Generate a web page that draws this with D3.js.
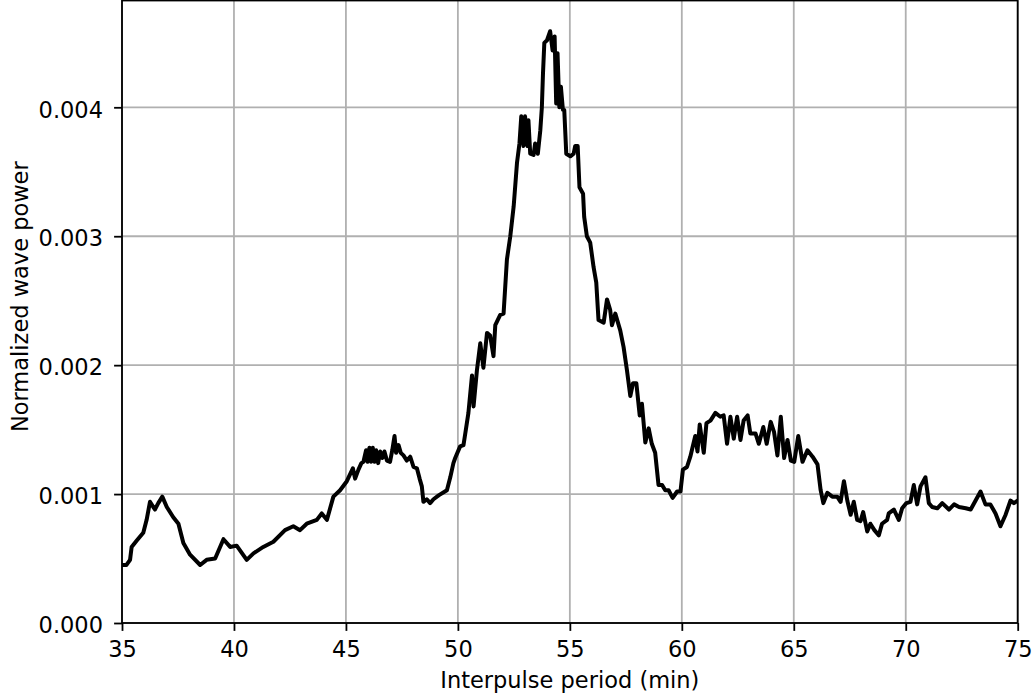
<!DOCTYPE html>
<html>
<head>
<meta charset="utf-8">
<script src="https://cdn.jsdelivr.net/npm/d3@7"></script>
<style>
  html, body { margin: 0; padding: 0; background: #fff; }
  svg { display: block; }
  text { font-family: "DejaVu Sans", sans-serif; fill: #000; }
</style>
</head>
<body>
<svg id="chart" width="1035" height="697"></svg>
<script>
// Interpulse period (min)
const periods = [
  35.00,35.20,35.36,35.43,35.66,35.95,36.10,36.25,36.47,36.62,
  36.80,37.00,37.29,37.52,37.74,38.04,38.49,38.78,39.16,39.53,
  39.83,40.12,40.57,40.87,41.31,41.76,42.28,42.65,42.95,43.25,
  43.70,43.92,44.15,44.44,44.74,45.04,45.31,45.41,45.56,45.69,
  45.78,45.90,45.96,46.05,46.12,46.20,46.27,46.35,46.44,46.53,
  46.63,46.72,46.83,46.97,47.07,47.17,47.24,47.35,47.45,47.57,
  47.72,47.87,48.02,48.17,48.29,48.39,48.46,48.61,48.76,48.91,
  49.14,49.51,49.66,49.80,49.88,50.10,50.25,50.33,50.47,50.63,
  50.70,50.85,51.00,51.14,51.30,51.44,51.59,51.67,51.89,52.04,
  52.19,52.34,52.49,52.64,52.75,52.83,52.93,53.00,53.11,53.15,
  53.23,53.38,53.45,53.57,53.68,53.75,53.80,53.86,53.98,54.12,
  54.23,54.32,54.39,54.45,54.53,54.60,54.69,54.75,54.84,55.02,
  55.17,55.24,55.35,55.43,55.59,55.64,55.76,55.91,56.06,56.18,
  56.28,56.51,56.66,56.80,56.88,57.03,57.25,57.40,57.55,57.70,
  57.82,57.97,58.12,58.22,58.37,58.52,58.66,58.81,58.96,59.12,
  59.26,59.41,59.59,59.79,59.94,60.05,60.23,60.38,60.60,60.70,
  60.80,60.98,61.10,61.28,61.50,61.72,61.87,62.02,62.17,62.32,
  62.47,62.62,62.76,62.94,63.06,63.29,63.44,63.64,63.79,63.97,
  64.12,64.27,64.42,64.57,64.72,64.87,65.02,65.20,65.39,65.61,
  65.84,66.06,66.20,66.32,66.50,66.72,66.94,67.09,67.24,67.39,
  67.54,67.68,67.83,67.98,68.10,68.28,68.42,68.60,68.80,68.94,
  69.17,69.24,69.47,69.69,69.84,70.03,70.21,70.36,70.51,70.66,
  70.88,71.03,71.18,71.41,71.63,71.93,72.16,72.38,72.68,72.90,
  73.12,73.34,73.56,73.78,74.01,74.23,74.46,74.68,74.83,75.00
];
// Normalized wave power (in units of 0.001)
const powerMilli = [
  0.45,0.45,0.49,0.59,0.64,0.70,0.80,0.94,0.88,0.93,
  0.98,0.90,0.82,0.77,0.62,0.53,0.45,0.49,0.50,0.65,
  0.59,0.60,0.49,0.54,0.59,0.63,0.72,0.75,0.72,0.77,
  0.80,0.85,0.80,0.98,1.03,1.10,1.20,1.12,1.19,1.24,
  1.25,1.34,1.25,1.36,1.25,1.36,1.25,1.34,1.24,1.33,
  1.28,1.33,1.26,1.25,1.34,1.45,1.32,1.38,1.32,1.30,
  1.26,1.29,1.21,1.20,1.12,1.06,0.94,0.96,0.93,0.96,
  0.99,1.03,1.13,1.24,1.28,1.37,1.38,1.47,1.63,1.92,
  1.68,1.96,2.17,1.98,2.25,2.23,2.07,2.31,2.39,2.40,
  2.82,3.00,3.23,3.57,3.72,3.93,3.70,3.93,3.70,3.90,
  3.64,3.63,3.72,3.64,3.82,4.00,4.26,4.50,4.52,4.59,
  4.44,4.55,4.03,4.42,4.00,4.16,3.98,3.98,3.64,3.62,
  3.64,3.70,3.70,3.38,3.33,3.15,3.00,2.95,2.76,2.64,
  2.35,2.33,2.51,2.43,2.31,2.40,2.27,2.14,1.96,1.76,
  1.86,1.86,1.61,1.70,1.40,1.51,1.39,1.32,1.07,1.07,
  1.03,1.03,0.97,1.02,1.02,1.19,1.21,1.29,1.45,1.33,
  1.54,1.32,1.55,1.57,1.63,1.60,1.61,1.39,1.60,1.43,
  1.60,1.42,1.57,1.61,1.47,1.47,1.39,1.52,1.39,1.56,
  1.48,1.30,1.60,1.28,1.42,1.26,1.25,1.45,1.25,1.34,
  1.29,1.23,1.03,0.93,1.01,0.98,0.98,0.94,1.10,0.95,
  0.84,0.94,0.80,0.79,0.86,0.71,0.77,0.72,0.68,0.77,
  0.80,0.85,0.88,0.80,0.89,0.93,0.94,1.07,0.92,1.06,
  1.13,0.93,0.90,0.89,0.93,0.88,0.92,0.90,0.89,0.88,
  0.95,1.02,0.92,0.92,0.85,0.75,0.84,0.95,0.93,0.95
];
const xTicks = [35, 40, 45, 50, 55, 60, 65, 70, 75];
const yTicks = [0, 0.001, 0.002, 0.003, 0.004];
const xLabel = "Interpulse period (min)";
const yLabel = "Normalized wave power";

(function () {
const data = periods.map((p, i) => ({ x: p, y: powerMilli[i] / 1000 }));

const W = 1035, H = 697;
const pL = 122, pR = 1017.7, pT = 0.5, pB = 623;
const FS = 22.5;
const LW = 1.8;
const TICK = 7.9;

const svg = d3.select("#chart");
svg.append("rect").attr("width", W).attr("height", H).attr("fill", "#fff");

const x = d3.scaleLinear().domain([35, 75]).range([pL, pR]);
const yPerUnit = (pB - 107.3) / 0.004;
const yMax = (pB - pT) / yPerUnit;
const y = d3.scaleLinear().domain([0, yMax]).range([pB, pT]);

// grid
const grid = svg.append("g");
grid.selectAll("line.gx").data(xTicks).join("line").attr("class", "gx")
  .attr("x1", d => x(d)).attr("x2", d => x(d))
  .attr("y1", pT).attr("y2", pB)
  .attr("stroke", "#b0b0b0").attr("stroke-width", LW);
grid.selectAll("line.gy").data(yTicks).join("line").attr("class", "gy")
  .attr("y1", d => y(d)).attr("y2", d => y(d))
  .attr("x1", pL).attr("x2", pR)
  .attr("stroke", "#b0b0b0").attr("stroke-width", LW);

// line
svg.append("defs").append("clipPath").attr("id", "clip")
  .append("rect").attr("x", pL).attr("y", pT).attr("width", pR - pL).attr("height", pB - pT);
const line = d3.line().x(d => x(d.x)).y(d => y(d.y));
svg.append("path").datum(data)
  .attr("clip-path", "url(#clip)")
  .attr("d", line)
  .attr("fill", "none")
  .attr("stroke", "#000")
  .attr("stroke-width", 4)
  .attr("stroke-linejoin", "round")
  .attr("stroke-linecap", "square");

// axes
const xAxis = d3.axisBottom(x).tickValues(xTicks).tickFormat(d3.format("d"))
  .tickSize(TICK).tickPadding(0);
const gx = svg.append("g").attr("transform", `translate(0,${pB})`).call(xAxis);
gx.select(".domain").remove();
gx.selectAll(".tick line").attr("stroke", "#000").attr("stroke-width", LW);
gx.selectAll(".tick text").attr("font-size", FS).attr("font-family", "DejaVu Sans")
  .attr("fill", "#000").attr("y", 657.3 - pB).attr("dy", null);

const yAxis = d3.axisLeft(y).tickValues(yTicks).tickFormat(d3.format(".3f"))
  .tickSize(TICK).tickPadding(0);
const gy = svg.append("g").attr("transform", `translate(${pL},0)`).call(yAxis);
gy.select(".domain").remove();
gy.selectAll(".tick line").attr("stroke", "#000").attr("stroke-width", LW);
gy.selectAll(".tick text").attr("font-size", FS).attr("font-family", "DejaVu Sans")
  .attr("fill", "#000").attr("x", -19).attr("dy", null).attr("y", 9.7);

// spines
svg.append("rect").attr("x", pL).attr("y", pT).attr("width", pR - pL).attr("height", pB - pT)
  .attr("fill", "none").attr("stroke", "#000").attr("stroke-width", LW);

// labels
svg.append("text").attr("x", (pL + pR) / 2).attr("y", 688.3)
  .attr("text-anchor", "middle").attr("font-size", FS).text(xLabel);
svg.append("text").attr("transform", `translate(28.3,296.7) rotate(-90)`)
  .attr("text-anchor", "middle").attr("font-size", FS).text(yLabel);
})();
</script>
</body>
</html>
